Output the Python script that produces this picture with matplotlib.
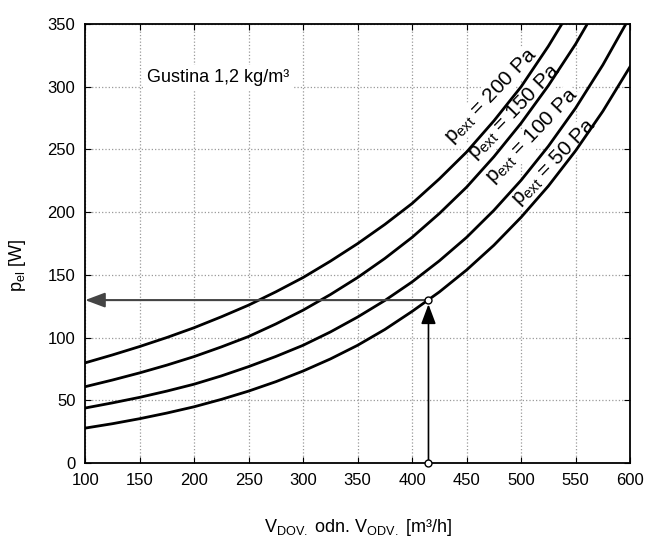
import matplotlib
matplotlib.use("Agg")
import matplotlib.pyplot as plt

plt.rcParams['font.family'] = ['Liberation Sans', 'DejaVu Sans']
plt.rcParams['mathtext.fontset'] = 'custom'
plt.rcParams['mathtext.rm'] = 'Liberation Sans'
plt.rcParams['mathtext.it'] = 'Liberation Sans'

# airflow [m3/h], read every 25
flow = [100, 125, 150, 175, 200, 225, 250, 275, 300, 325, 350,
        375, 400, 425, 450, 475, 500, 525, 550, 575, 600]
# electric power [W] per external pressure
p200 = [80, 86.3, 93, 100.2, 108, 116.7, 126, 136.6, 148, 161, 175,
        190.3, 207, 226.6, 248, 272.8, 300, 332.3, 368]
p150 = [61, 66.3, 72, 78.2, 85, 92.7, 101, 111, 122, 134.4, 148,
        163.2, 180, 199, 220, 244.2, 271, 300.9, 334, 371.4, 413]
p100 = [44, 48.1, 52.5, 57.5, 63, 69.6, 77, 85.1, 94, 104.6, 116.5,
        129.7, 144.5, 161.3, 180, 201.5, 225.5, 252.6, 283, 317.4, 356]
p50 = [28, 31.5, 35.5, 40, 45, 50.9, 57.5, 65, 73.5, 83.1, 94,
       106.6, 121, 136.5, 154, 173.7, 196, 220.9, 249, 280.5, 316]
curves = [p200, p150, p100, p50]
labels = ['200', '150', '100', '50']
label_pos = [(472, 293), (494, 280), (510, 261), (530, 240)]

# example reading
op_flow = 415
op_power = 130

fig = plt.figure(figsize=(6.55, 5.45), dpi=100)
ax = fig.add_axes([0.130, 0.150, 0.832, 0.806])
ax.set_axisbelow(True)

for c in curves:
    ax.plot(flow[:len(c)], c, color='black', lw=2, zorder=2)

for lab, (lx, ly) in zip(labels, label_pos):
    ax.text(lx, ly, 'p$_\\mathregular{ext}$ = ' + lab + ' Pa', rotation=46,
            fontsize=15, ha='center', va='center', rotation_mode='anchor',
            bbox=dict(facecolor='white', edgecolor='none', pad=0.5), zorder=1.5)

ax.text(157, 307, 'Gustina 1,2 kg/m³', fontsize=13, va='center',
        bbox=dict(facecolor='white', edgecolor='none', pad=3), zorder=1.5)

ax.annotate('', xy=(100, op_power), xytext=(op_flow, op_power),
            arrowprops=dict(arrowstyle='-|>,head_length=0.8,head_width=0.3',
                            mutation_scale=15, color='#444444', lw=1.5,
                            shrinkA=0, shrinkB=0), zorder=4)
ax.annotate('', xy=(op_flow, op_power), xytext=(op_flow, 0),
            arrowprops=dict(arrowstyle='-|>,head_length=0.8,head_width=0.3',
                            mutation_scale=15, color='black', lw=1.2,
                            shrinkA=0, shrinkB=3), zorder=4)
ax.plot([op_flow, op_flow], [0, op_power], 'o', ms=5, mfc='white',
        mec='black', mew=1, clip_on=False, zorder=5)

ax.set_xlim(100, 600)
ax.set_ylim(0, 350)
ax.set_xticks(range(100, 601, 50))
ax.set_yticks(range(0, 351, 50))
ax.grid(True, ls=':', color='#999999', lw=0.9)
ax.tick_params(direction='in', top=True, right=True, labelsize=12,
               length=4, pad=7)
for s in ax.spines.values():
    s.set_linewidth(1.3)

ax.set_ylabel('p$_\\mathregular{el}$ [W]', fontsize=13)
ax.yaxis.set_label_coords(-0.105, 0.45)
ax.set_xlabel('V$_\\mathregular{DOV.}$ odn. V$_\\mathregular{ODV.}$ [m³/h]',
              fontsize=13, labelpad=21)

fig.savefig('out.png', dpi=100)
